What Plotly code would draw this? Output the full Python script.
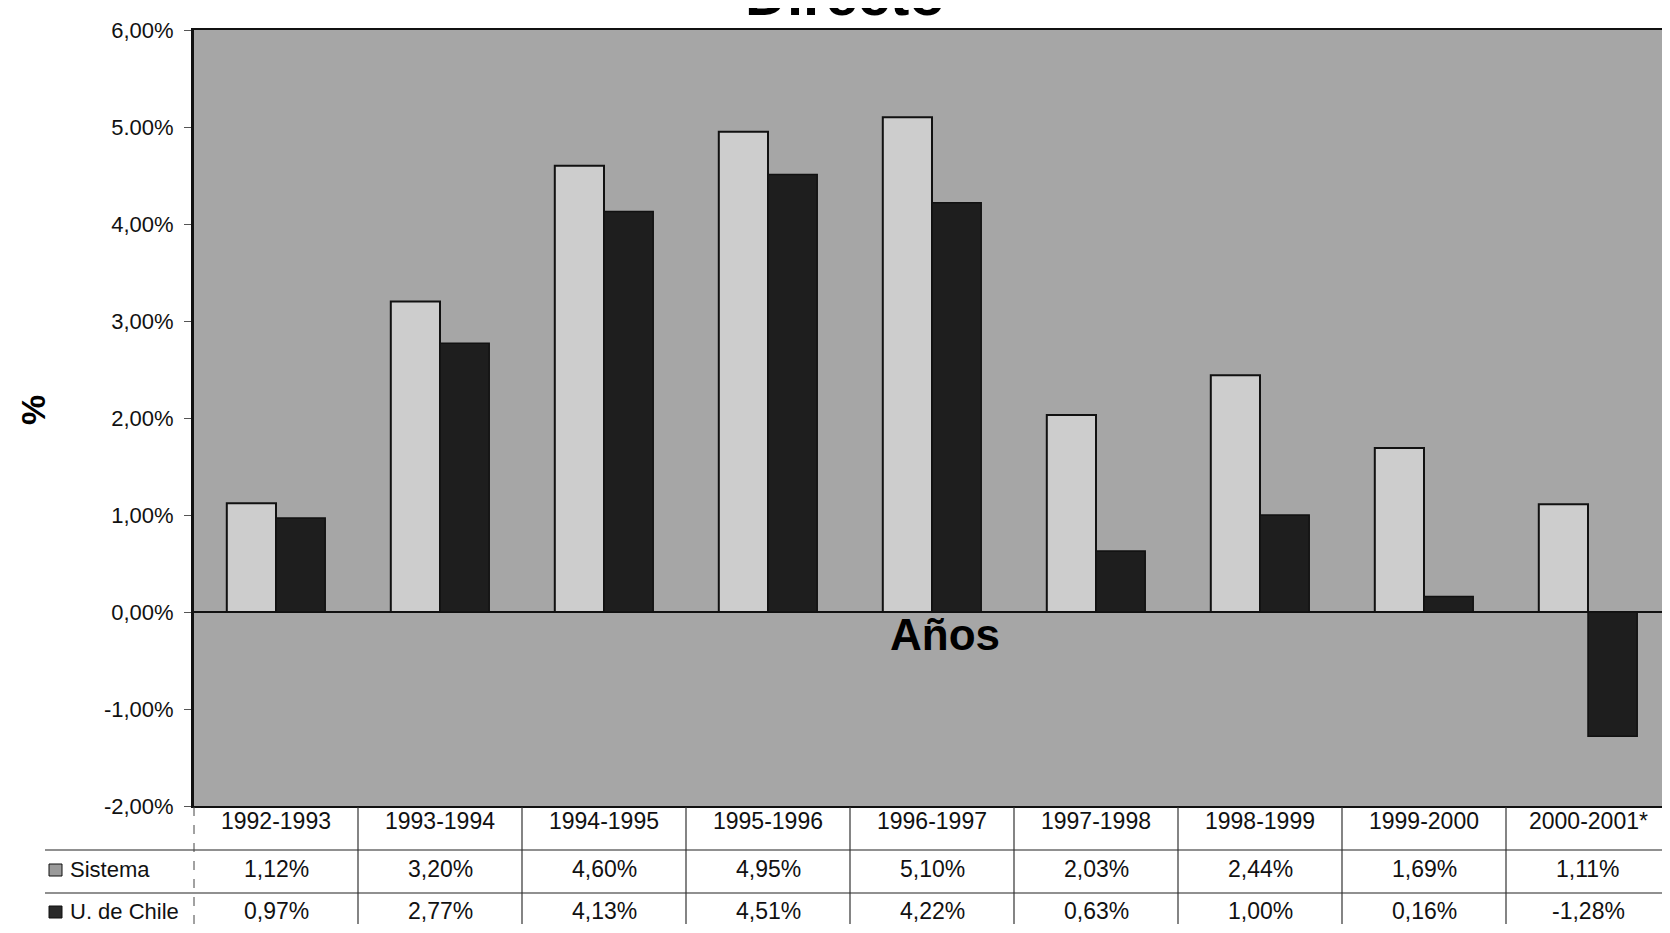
import plotly.graph_objects as go

# ---- data ----
periods = ["1992-1993", "1993-1994", "1994-1995", "1995-1996", "1996-1997",
           "1997-1998", "1998-1999", "1999-2000", "2000-2001*"]
sistema = [1.12, 3.20, 4.60, 4.95, 5.10, 2.03, 2.44, 1.69, 1.11]
udechile = [0.97, 2.77, 4.13, 4.51, 4.22, 0.63, 1.00, 0.16, -1.28]
series_names = ["Sistema", "U. de Chile"]
tick_vals = [6, 5, 4, 3, 2, 1, 0, -1, -2]
tick_text = ["6,00%", "5.00%", "4,00%", "3,00%", "2,00%", "1,00%", "0,00%", "-1,00%", "-2,00%"]
title_text = "Directo"
x_title = "Años"
y_title = "%"

# ---- layout geometry (page pixels; the page body adds an 8px offset) ----
OFF = 8
PAGE_W, PAGE_H = 1670, 933
W, H = PAGE_W - OFF, PAGE_H - OFF
PLOT_L, PLOT_T, PLOT_B = 194, 30, 806          # page coords of the plot area
L, T = PLOT_L - OFF, PLOT_T - OFF
B = H - (PLOT_B - OFF)
R = 0
PW, PH = W - L - R, H - T - B
FONT = "Liberation Sans, Arial, sans-serif"


def py(p):  # page pixel y -> paper y
    return (PLOT_B - p) / PH


def px(p):  # page pixel x -> paper x
    return (p - PLOT_L) / PW


def fmt(v):
    return f"{v:.2f}".replace(".", ",") + "%"


fig = go.Figure()
fig.add_trace(go.Bar(x=periods, y=sistema, name=series_names[0],
                     marker=dict(color="#cdcdcd", line=dict(color="#111111", width=2))))
fig.add_trace(go.Bar(x=periods, y=udechile, name=series_names[1],
                     marker=dict(color="#1e1e1e", line=dict(color="#111111", width=1.5))))

shapes = []
annotations = []

# title (cropped at top like the scan)
annotations.append(dict(text=f"<b>{title_text}</b>", xref="paper", yref="paper",
                        x=px(845), y=py(-5), xanchor="center", yanchor="middle",
                        showarrow=False, font=dict(size=58, family=FONT, color="#000")))
# "Años" label
annotations.append(dict(text=f"<b>{x_title}</b>", xref="paper", yref="paper",
                        x=px(945), y=py(634), xanchor="center", yanchor="middle",
                        showarrow=False, font=dict(size=44, family=FONT, color="#000")))
# "%" y title
annotations.append(dict(text=f"<b>{y_title}</b>", xref="paper", yref="paper",
                        x=px(33), y=py(410), xanchor="center", yanchor="middle",
                        textangle=-90, showarrow=False,
                        font=dict(size=34, family=FONT, color="#000")))

# data table below the plot
row_y = [821, 869, 911]
tfont = dict(size=23, family=FONT, color="#111")
for i, p in enumerate(periods):
    annotations.append(dict(text=p, xref="x", yref="paper", x=i, y=py(row_y[0]),
                            showarrow=False, yanchor="middle", font=tfont))
    annotations.append(dict(text=fmt(sistema[i]), xref="x", yref="paper", x=i, y=py(row_y[1]),
                            showarrow=False, yanchor="middle", font=tfont))
    annotations.append(dict(text=fmt(udechile[i]), xref="x", yref="paper", x=i, y=py(row_y[2]),
                            showarrow=False, yanchor="middle", font=tfont))

# row labels with legend keys
for name, yy, col in [(series_names[0], row_y[1], "#9a9a9a"), (series_names[1], row_y[2], "#2a2a2a")]:
    annotations.append(dict(text=name, xref="paper", yref="paper", x=px(68), y=py(yy),
                            xanchor="left", yanchor="middle", showarrow=False,
                            font=dict(size=22, family=FONT, color="#111")))
    shapes.append(dict(type="rect", xref="paper", yref="paper",
                       x0=px(49), x1=px(62), y0=py(yy + 7), y1=py(yy - 5),
                       fillcolor=col, line=dict(color="#111", width=1)))

# horizontal table lines
for yy in [850, 893]:
    shapes.append(dict(type="line", xref="paper", yref="paper", x0=px(45), x1=1,
                       y0=py(yy), y1=py(yy), line=dict(color="#222", width=1.2)))
# vertical separators
shapes.append(dict(type="line", xref="paper", yref="paper", x0=0, x1=0,
                   y0=py(807), y1=py(924), line=dict(color="#444", width=1, dash="dash")))
for i in range(1, len(periods)):
    shapes.append(dict(type="line", xref="x", yref="paper", x0=i - 0.5, x1=i - 0.5,
                       y0=py(807), y1=py(924), line=dict(color="#333", width=1.2)))

fig.update_layout(
    width=W, height=H,
    margin=dict(l=L, r=R, t=T, b=B, pad=0),
    paper_bgcolor="white",
    plot_bgcolor="#a6a6a6",
    barmode="group", bargap=0.4, bargroupgap=0,
    showlegend=False,
    shapes=shapes, annotations=annotations,
    font=dict(family=FONT, color="#111"),
)
fig.update_xaxes(showticklabels=False, ticks="", showgrid=False, showline=True,
                 mirror=True, linecolor="#111", linewidth=2, range=[-0.5, 8.5])
fig.update_yaxes(range=[-2, 6], tickvals=tick_vals, ticktext=tick_text, showgrid=False,
                 ticks="outside", ticklen=7, tickcolor="#555", showline=True,
                 linecolor="#111", linewidth=3, zeroline=True, zerolinecolor="#111",
                 zerolinewidth=2, ticklabelstandoff=6,
                 tickfont=dict(size=22, family=FONT, color="#111"))

fig.write_html("out.html")
